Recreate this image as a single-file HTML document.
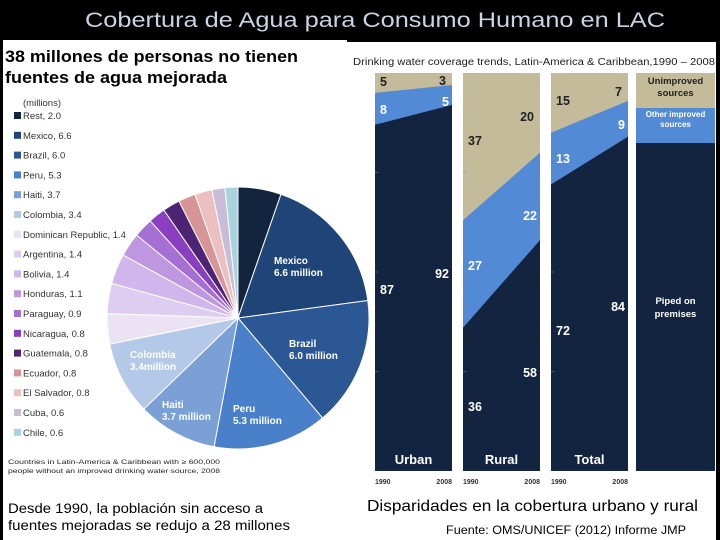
<!DOCTYPE html>
<html><head><meta charset="utf-8"><style>
body{margin:0;width:720px;height:540px;background:#000;overflow:hidden;font-family:"Liberation Sans",sans-serif;position:relative}
div{position:absolute}
</style></head><body>
<div style="left:3px;top:40px;width:344px;height:500px;background:#fff"></div>
<div style="left:347px;top:42px;width:369px;height:498px;background:#fff"></div>
<svg width="720" height="540" style="position:absolute;left:0;top:0" id="svg">
<text x="85" y="27" font-size="21" fill="#c9d3e3" textLength="580" lengthAdjust="spacingAndGlyphs">Cobertura de Agua para Consumo Humano en LAC</text>
<text x="5" y="62" font-size="17" font-weight="bold" textLength="293" lengthAdjust="spacingAndGlyphs">38 millones de personas no tienen</text>
<text x="5" y="83" font-size="17" font-weight="bold" textLength="222" lengthAdjust="spacingAndGlyphs">fuentes de agua mejorada</text>
<text x="8" y="513" font-size="13.5" textLength="255" lengthAdjust="spacingAndGlyphs">Desde 1990, la población sin acceso a</text>
<text x="8" y="530" font-size="13.5" textLength="282" lengthAdjust="spacingAndGlyphs">fuentes mejoradas se redujo a 28 millones</text>
<text x="367" y="511" font-size="16" textLength="331" lengthAdjust="spacingAndGlyphs">Disparidades en la cobertura urbano y rural</text>
<text x="446" y="534" font-size="11.5" textLength="240" lengthAdjust="spacingAndGlyphs">Fuente: OMS/UNICEF  (2012) Informe JMP</text>
</svg>
<script>
const countries=["Rest","Mexico","Brazil","Peru","Haiti","Colombia","Dominican Republic","Argentina","Bolivia","Honduras","Paraguay","Nicaragua","Guatemala","Ecuador","El Salvador","Cuba","Chile"];
const millions=[2.0,6.6,6.0,5.3,3.7,3.4,1.4,1.4,1.4,1.1,0.9,0.8,0.8,0.8,0.8,0.6,0.6];
const pieColors=["#13243f","#1f4477","#2c5795","#4a7fca","#7aa0d6","#b4c9e8","#ebe3f3","#ddcdf0","#d0b6ea","#bf96e0","#a66fd3","#8a3fc0","#4c2473","#d89595","#ecc0c0","#c8bcd8","#a9d3de"];
const groups=["Urban","Rural","Total"];
const years=["1990","2008"];
const piped1990=[87,36,72], piped2008=[92,58,84];
const other1990=[8,27,13], other2008=[5,22,9];
const unimp1990=[5,37,15], unimp2008=[3,20,7];
const NS="http://www.w3.org/2000/svg",svg=document.getElementById('svg');
function mk(t,a,txt){const e=document.createElementNS(NS,t);for(const k in a)e.setAttribute(k,a[k]);if(txt!==undefined)e.textContent=txt;svg.appendChild(e);return e;}
// pie
const cx=238,cy=318,R=131,total=millions.reduce((a,b)=>a+b,0);
let ang=0;
millions.forEach((v,i)=>{const a0=ang,a1=ang+v/total*2*Math.PI;ang=a1;
const x0=cx+R*Math.sin(a0),y0=cy-R*Math.cos(a0),x1=cx+R*Math.sin(a1),y1=cy-R*Math.cos(a1);
const p=mk('path',{d:`M${cx},${cy}L${x0},${y0}A${R},${R} 0 ${a1-a0>Math.PI?1:0} 1 ${x1},${y1}Z`,fill:pieColors[i],stroke:'#fff','stroke-width':1});


const ly=119+i*19.8;
const r=mk('rect',{x:14,y:ly-7,width:7,height:7,fill:pieColors[i]});


const t=mk('text',{x:23,y:ly,'font-size':9.5,fill:'#333'},countries[i]+', '+v.toFixed(1));


});
mk('text',{x:23,y:106,'font-size':9.5,fill:'#333'},'(millions)');
const pl=[["Mexico","6.6 million",274,264],["Brazil","6.0 million",289,347],["Peru","5.3 million",233,412],["Haiti","3.7 million",162,408],["Colombia","3.4million",130,358]];
pl.forEach(p=>{const t=mk('text',{x:p[2],y:p[3],'font-size':10,'font-weight':'bold',fill:'#fff'});t.innerHTML=`<tspan x="${p[2]}">${p[0]}</tspan><tspan x="${p[2]}" dy="12">${p[1]}</tspan>`;});
mk('text',{x:8,y:464,'font-size':6.5,fill:'#222',textLength:212,lengthAdjust:'spacingAndGlyphs'},'Countries in Latin-America & Caribbean with ≥ 600,000');
mk('text',{x:8,y:473,'font-size':6.5,fill:'#222',textLength:212,lengthAdjust:'spacingAndGlyphs'},'people without an improved drinking water source, 2008');
// area charts
mk('text',{x:353,y:65,'font-size':10,fill:'#222',textLength:362,lengthAdjust:'spacingAndGlyphs'},'Drinking water coverage trends, Latin-America & Caribbean,1990 – 2008');
const top0=73,bot=471,H=bot-top0;
const yS=v=>bot-v/100*H;
const px=[375,463,551],pw=77;
// label layout (pixel offsets, not data)
const lblPiped0=[289,406,330], lblPiped8=[273,372,306];
const lblOther0=[109,265,158], lblOther8=[101,215,124];
const lblUn0=[81,140,100], lblUn8=[80,116,91];
groups.forEach((g,i)=>{const x0=px[i],x1=x0+pw;
const r=mk('rect',{x:x0,y:top0,width:pw,height:H,fill:'#c4bb9b'});
const o=mk('polygon',{points:`${x0},${bot} ${x0},${yS(piped1990[i]+other1990[i])} ${x1},${yS(piped2008[i]+other2008[i])} ${x1},${bot}`,fill:'#538ad6'});
const p=mk('polygon',{points:`${x0},${bot} ${x0},${yS(piped1990[i])} ${x1},${yS(piped2008[i])} ${x1},${bot}`,fill:'#12243f'});
[1,2,3].forEach(k=>mk('line',{x1:x0,x2:x0+3,y1:yS(k*25),y2:yS(k*25),stroke:'#888','stroke-width':0.5}));
const fs={'font-size':12.5,'font-weight':'bold'};
mk('text',Object.assign({x:x0+5,y:lblPiped0[i]+5,fill:'#fff'},fs),piped1990[i]);
mk('text',Object.assign({x:x1-3,y:lblPiped8[i]+5,fill:'#fff','text-anchor':'end'},fs),piped2008[i]);
mk('text',Object.assign({x:x0+5,y:lblOther0[i]+5,fill:'#fff'},fs),other1990[i]);
mk('text',Object.assign({x:x1-3,y:lblOther8[i]+5,fill:'#fff','text-anchor':'end'},fs),other2008[i]);
mk('text',Object.assign({x:x0+5,y:lblUn0[i]+5,fill:'#222'},fs),unimp1990[i]);
mk('text',Object.assign({x:x1-6,y:lblUn8[i]+5,fill:'#222','text-anchor':'end'},fs),unimp2008[i]);
const gl=mk('text',{x:x0+pw/2,y:464,'font-size':13,'font-weight':'bold',fill:'#fff','text-anchor':'middle'},g);
mk('text',{x:x0,y:484,'font-size':7,'font-weight':'bold',fill:'#333'},years[0]);
mk('text',{x:x1,y:484,'font-size':7,'font-weight':'bold',fill:'#333','text-anchor':'end'},years[1]);
});
const lx=636,lw=79;
mk('rect',{x:lx,y:top0,width:lw,height:H,fill:'#12243f'});
mk('rect',{x:lx,y:top0,width:lw,height:35,fill:'#c4bb9b'});
mk('rect',{x:lx,y:top0+35,width:lw,height:35,fill:'#538ad6'});
[["Unimproved",84,'#222',9.5],["sources",96,'#222',9.5],["Other improved",117,'#fff',8],["sources",127,'#fff',8],["Piped on",304,'#fff',9.5],["premises",317,'#fff',9.5]].forEach(a=>mk('text',{x:lx+lw/2,y:a[1],'font-size':a[3],'font-weight':'bold',fill:a[2],'text-anchor':'middle'},a[0]));
mk('rect',{x:716,y:40,width:4,height:455,fill:'#000'});
</script>
</body></html>
